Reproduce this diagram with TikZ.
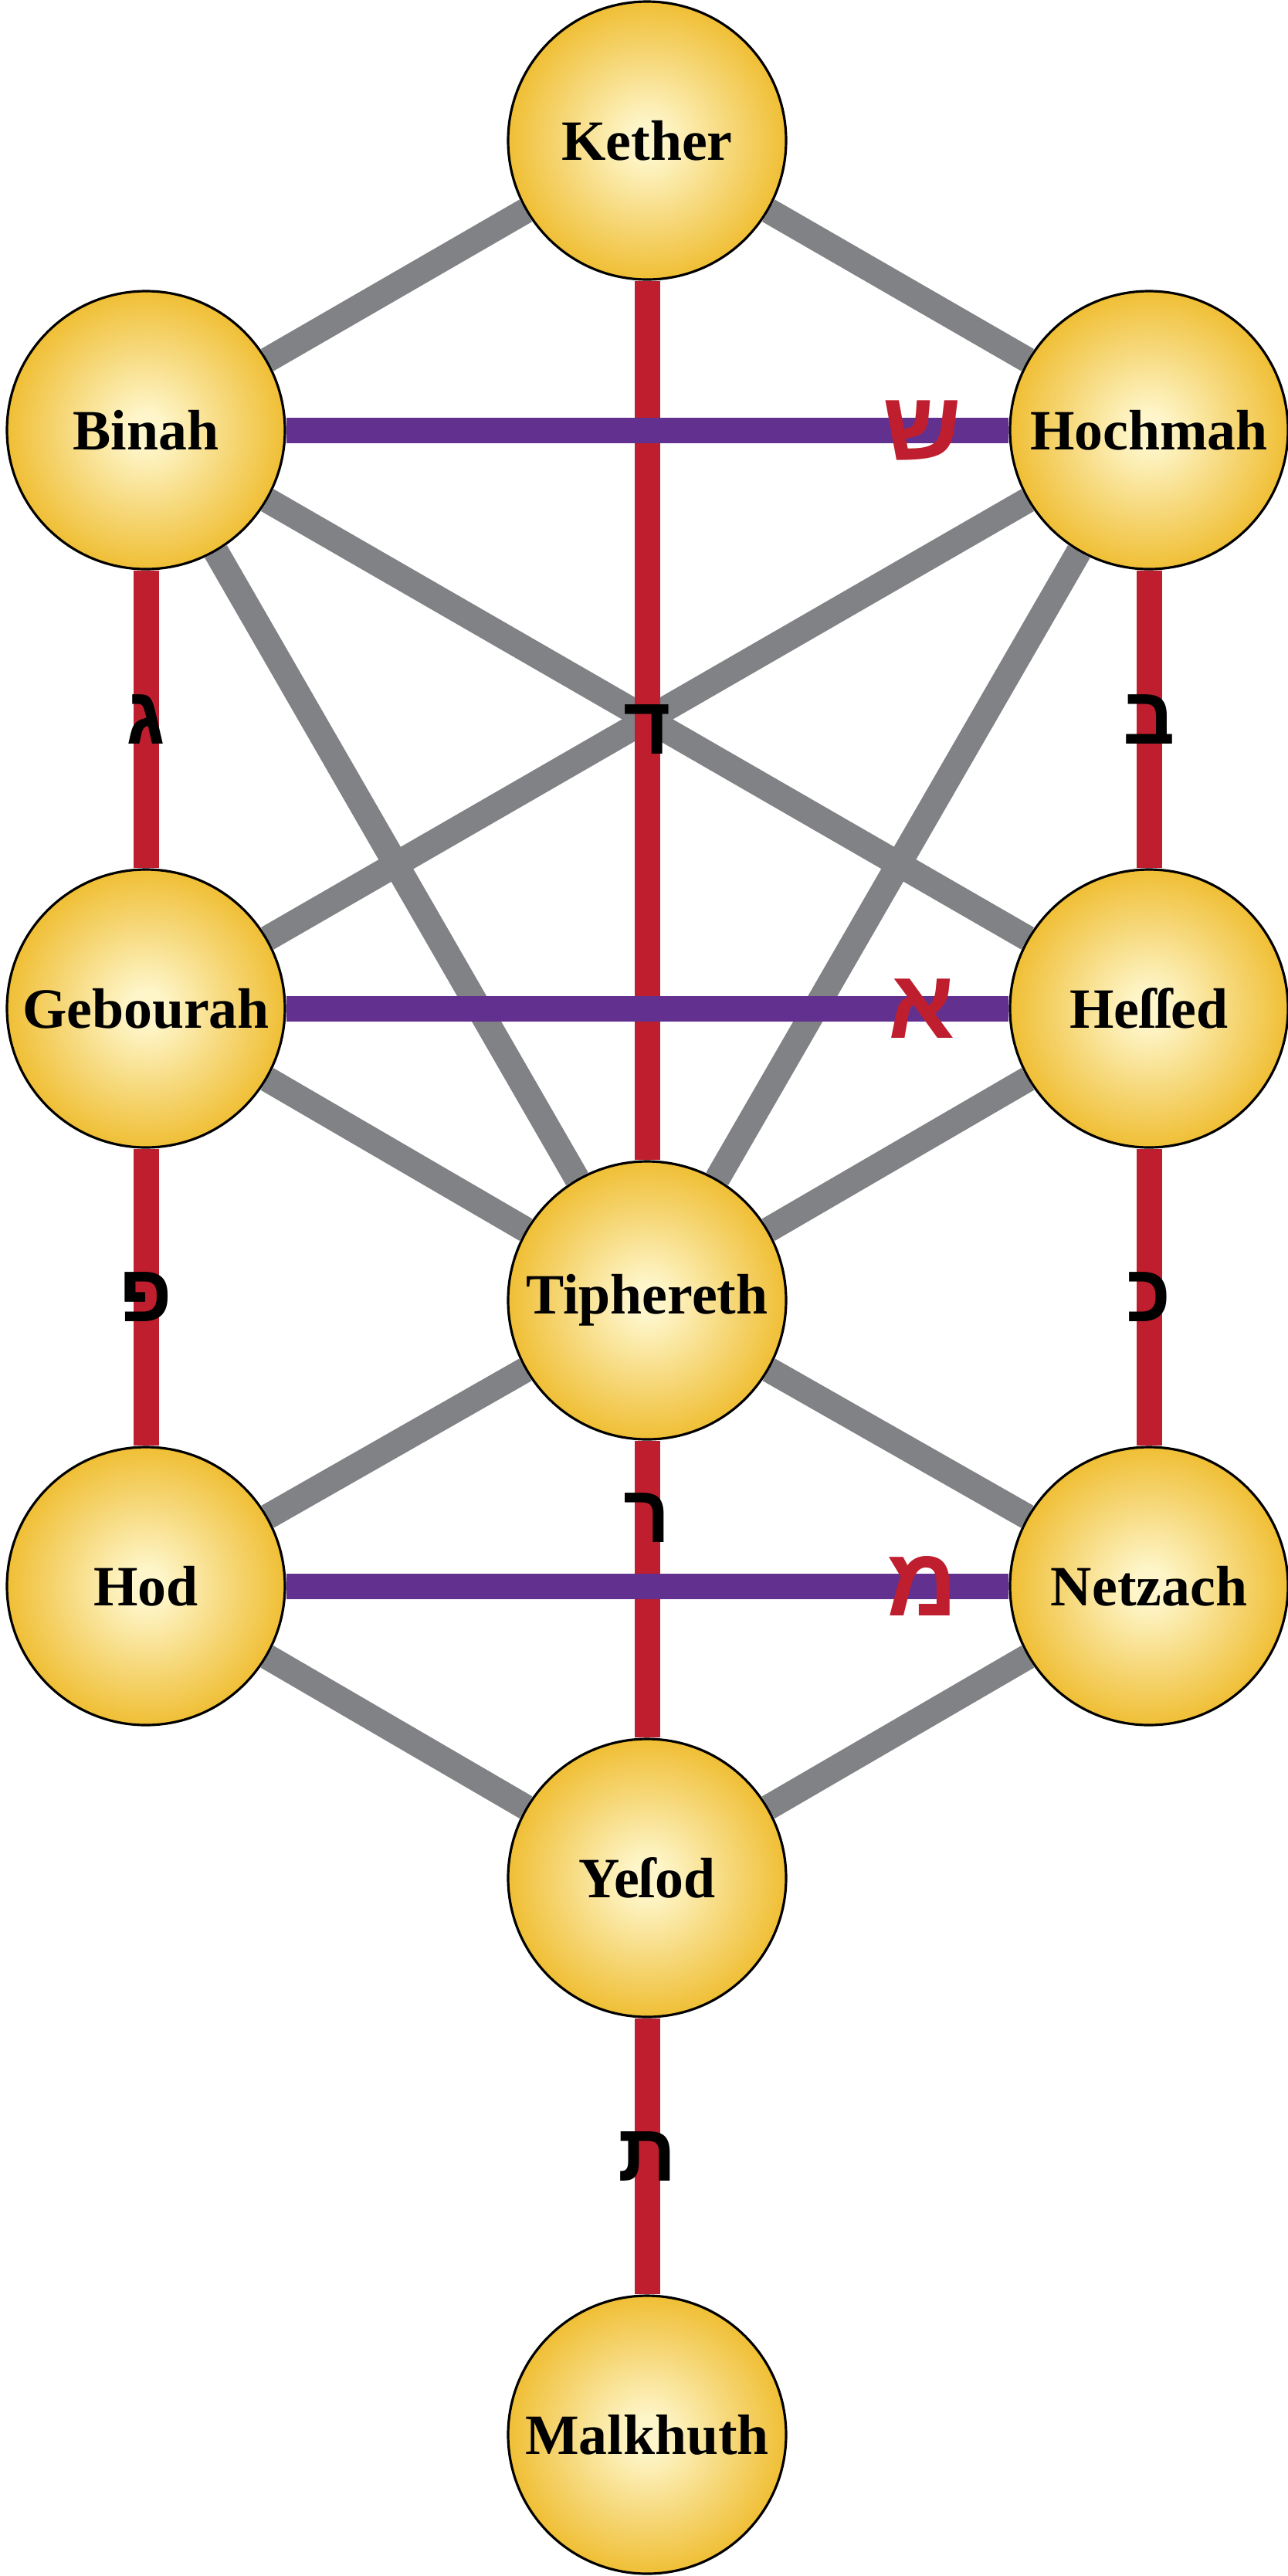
\documentclass[tikz,border=0pt]{standalone}
\usepackage{fontspec}
\usetikzlibrary{backgrounds}
\TeXXeTstate=1
\setmainfont{Liberation Serif}
\newfontfamily\hebfont[Script=Hebrew]{Liberation Sans}
\definecolor{sephlight}{HTML}{FEF6CA}
\definecolor{sephgold}{HTML}{EFBC2E}
\definecolor{sephdark}{HTML}{C6953C}
\definecolor{pathgray}{HTML}{808285}
\definecolor{pathred}{HTML}{BE1E2D}
\definecolor{pathpurple}{HTML}{62318F}
\pgfdeclareradialshading{sephshade}{\pgfpoint{0bp}{0bp}}{color(0bp)=(sephlight); color(3bp)=(sephlight); color(26bp)=(sephgold); color(36bp)=(sephgold!85!sephdark); color(50bp)=(sephdark)}
\newcommand{\sephsize}{3.6cm}
\newcommand{\pathwidth}{0.33cm}
\newcommand{\heb}[1]{\beginR #1\endR}
\tikzset{
    sephsty/.style={draw,circle,line width=0.9pt,minimum size=\sephsize,inner sep=0pt,shading=sephshade,font=\bfseries\fontsize{21}{21}\selectfont},
    graysty/.style={draw=pathgray,line width=\pathwidth},
    redsty/.style={draw=pathred,line width=\pathwidth},
    purplesty/.style={draw=pathpurple,line width=\pathwidth},
    blksty/.style={text=black,inner sep=0pt,font=\hebfont\bfseries\fontsize{30}{30}\selectfont},
    rlsty/.style={text=pathred,inner sep=0pt,font=\hebfont\bfseries\fontsize{36}{36}\selectfont},
}

\begin{document}
\begin{tikzpicture}
\useasboundingbox (0,0) rectangle (16.67,-33.36);

\node[sephsty] (kether)    at (8.38,-1.82)  {Kether};
\node[sephsty] (binah)     at (1.89,-5.57)  {Binah};
\node[sephsty] (hochmah)   at (14.88,-5.57) {Hochmah};
\node[sephsty] (geburah)   at (1.89,-13.06) {Gebourah};
\node[sephsty] (hessed)    at (14.88,-13.06) {Heſſed};
\node[sephsty] (tiphereth) at (8.38,-16.84) {Tiphereth};
\node[sephsty] (hod)       at (1.89,-20.54) {Hod};
\node[sephsty] (netzach)   at (14.88,-20.54) {Netzach};
\node[sephsty] (yesod)     at (8.38,-24.32) {Yeſod};
\node[sephsty] (malkhuth)  at (8.38,-31.53) {Malkhuth};

\begin{pgfonlayer}{background}
\foreach \a/\b in {kether/binah,kether/hochmah,binah/tiphereth,hochmah/tiphereth,
                   binah/hessed,hochmah/geburah,geburah/tiphereth,hessed/tiphereth,
                   tiphereth/hod,tiphereth/netzach,hod/yesod,netzach/yesod}
    \draw[graysty] (\a) -- (\b);

\draw[redsty] (kether) -- node[blksty,pos=0.51]{\heb{ד}} (tiphereth);
\draw[redsty] (tiphereth) -- node[blksty,pos=0.26]{\heb{ר}} (yesod);
\draw[redsty] (yesod) -- node[blksty]{\heb{ת}} (malkhuth);
\draw[redsty] (binah) -- node[blksty]{\heb{ג}} (geburah);
\draw[redsty] (geburah) -- node[blksty]{\heb{פ}} (hod);
\draw[redsty] (hochmah) -- node[blksty]{\heb{ב}} (hessed);
\draw[redsty] (hessed) -- node[blksty]{\heb{כ}} (netzach);

\draw[purplesty] (binah) -- node[rlsty,pos=0.88]{\heb{ש}} (hochmah);
\draw[purplesty] (geburah) -- node[rlsty,pos=0.88]{\heb{א}} (hessed);
\draw[purplesty] (hod) -- node[rlsty,pos=0.88]{\heb{מ}} (netzach);
\end{pgfonlayer}
\end{tikzpicture}
\end{document}
